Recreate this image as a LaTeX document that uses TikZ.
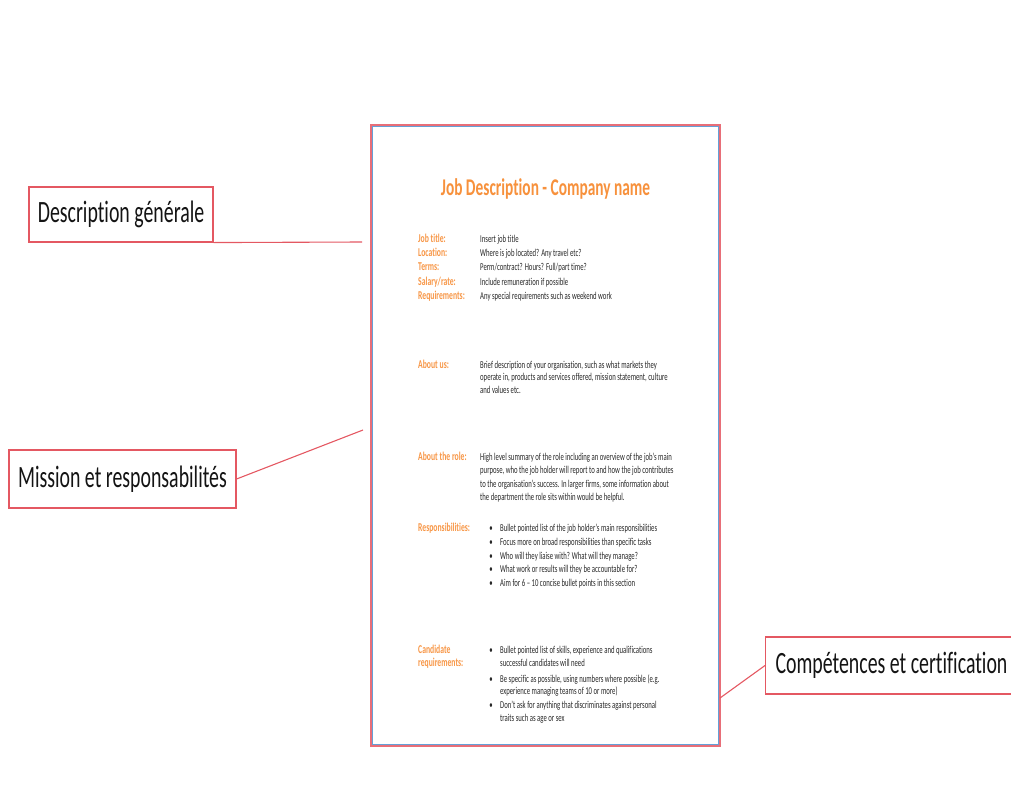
\documentclass[tikz,border=0pt]{standalone}
\usepackage{fontspec}
\setmainfont{Carlito}[FakeStretch=0.64, Ligatures={TeX,NoCommon}]
\definecolor{calloutred}{RGB}{228,88,98}
\definecolor{pagered}{RGB}{232,110,120}
\definecolor{pageblue}{RGB}{100,160,215}
\definecolor{jdorange}{RGB}{247,145,60}
\definecolor{fieldorange}{RGB}{247,150,70}
\definecolor{bodygray}{RGB}{40,40,40}
\begin{document}
\begin{tikzpicture}[x=1pt,y=-1pt,
  callout/.style={draw=calloutred, line width=1.1pt, fill=white, inner sep=0pt,
    font=\fontsize{31}{36}\selectfont, text=black!92},
  leader/.style={draw=calloutred, line width=1.1pt},
  heading/.style={anchor=base, inner sep=0pt, font=\bfseries\fontsize{24}{28}\selectfont, text=jdorange},
  field/.style={anchor=base west, inner sep=0pt, font=\bfseries\fontsize{12}{14}\selectfont, text=fieldorange},
  value/.style={anchor=base west, inner sep=0pt, font=\fontsize{10.5}{13}\selectfont, text=bodygray},
  dot/.style={anchor=base, inner sep=0pt, font=\fontsize{10.5}{13}\selectfont, text=bodygray}]
\useasboundingbox (0,0) rectangle (1011,798);
\clip (0,0) rectangle (1011,798);

% the job description sheet
\draw[pagered, line width=1.8pt] (371,125) rectangle (720,746);
\draw[pageblue, line width=1pt] (372.9,126.9) rectangle (718.1,744.1);

\node[heading] (title) at (545.5,195) {Job Description - Company name};

% key facts
\node[field] (fact-label-0) at (418,242) {Job title:};
\node[field] (fact-label-1) at (418,256.4) {Location:};
\node[field] (fact-label-2) at (418,270.8) {Terms:};
\node[field] (fact-label-3) at (418,285.2) {Salary/rate:};
\node[field] (fact-label-4) at (418,299.6) {Requirements:};
\node[value] (fact-0) at (480,242) {Insert job title};
\node[value] (fact-1) at (480,256.4) {Where is job located? Any travel etc?};
\node[value] (fact-2) at (480,270.8) {Perm/contract? Hours? Full/part time?};
\node[value] (fact-3) at (480,285.2) {Include remuneration if possible};
\node[value] (fact-4) at (480,299.6) {Any special requirements such as weekend work};

% about us
\node[field] (about-label) at (418,368) {About us:};
\foreach \ln [count=\i from 0] in {{Brief description of your organisation, such as what markets they},
    {operate in, products and services offered, mission statement, culture},
    {and values etc.}} {
  \node[value] (about-\i) at (480,368+12.6*\i) {\ln};
}

% about the role
\node[field] (role-label) at (418,460) {About the role:};
\foreach \ln [count=\i from 0] in {{High level summary of the role including an overview of the job's main},
    {purpose, who the job holder will report to and how the job contributes},
    {to the organisation's success. In larger firms, some information about},
    {the department the role sits within would be helpful.}} {
  \node[value] (role-\i) at (480,460+13.5*\i) {\ln};
}

% responsibilities
\node[field] (resp-label) at (418,531.5) {Responsibilities:};
\foreach \ln [count=\i from 0] in {{Bullet pointed list of the job holder's main responsibilities},
    {Focus more on broad responsibilities than specific tasks},
    {Who will they liaise with? What will they manage?},
    {What work or results will they be accountable for?},
    {Aim for 6 -- 10 concise bullet points in this section}} {
  \node[dot] (resp-dot-\i) at (491,531.5+13.75*\i) {•};
  \node[value] (resp-\i) at (500,531.5+13.75*\i) {\ln};
}

% candidate requirements
\node[field] (cand-label-0) at (418,653.7) {Candidate};
\node[field] (cand-label-1) at (418,666.3) {requirements:};
\node[dot] (cand-dot-0) at (491,653.7) {•};
\node[dot] (cand-dot-1) at (491,682) {•};
\node[dot] (cand-dot-2) at (491,708) {•};
\node[value] (cand-0) at (500,653.7) {Bullet pointed list of skills, experience and qualifications};
\node[value] (cand-1) at (500,666.3) {successful candidates will need};
\node[value] (cand-2) at (500,682) {Be specific as possible, using numbers where possible (e.g.};
\node[value] (cand-3) at (500,694.7) {experience managing teams of 10 or more)};
\node[value] (cand-4) at (500,708) {Don't ask for anything that discriminates against personal};
\node[value] (cand-5) at (500,721.3) {traits such as age or sex};

% callouts and their leaders
\node[callout, minimum width=184pt, minimum height=55pt] (general) at (121,214.5) {Description générale};
\node[callout, minimum width=227pt, minimum height=58pt] (mission) at (122.5,479) {Mission et responsabilités};
\node[callout, anchor=west, minimum width=270pt, minimum height=57pt] (skills) at (765,665.5)
  {\makebox[250pt][l]{Compétences et certification}};

\coordinate (general-end) at (362,242);
\coordinate (mission-end) at (363,430);
\coordinate (skills-end) at (720,698);

\draw[leader] (general.south east) -- (general-end);
\draw[leader] (mission.east) -- (mission-end);
\draw[leader] (skills.west) -- (skills-end);
\end{tikzpicture}
\end{document}
